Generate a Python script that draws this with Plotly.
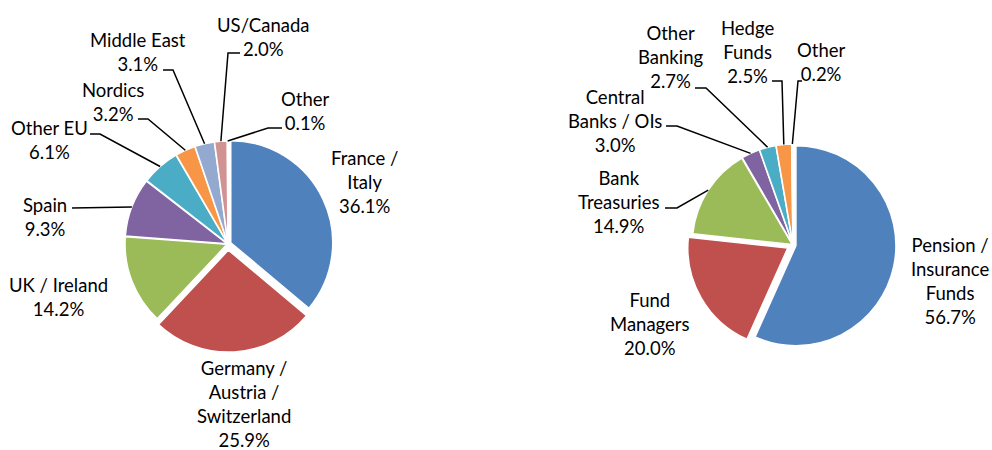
import math
import plotly.graph_objects as go

W, H = 992, 450

# ---------------- data ----------------
left_labels = ["France /<br>Italy", "Germany /<br>Austria /<br>Switzerland", "UK / Ireland",
               "Spain", "Other EU", "Nordics", "Middle East", "US/Canada", "Other"]
left_values = [36.1, 25.9, 14.2, 9.3, 6.1, 3.2, 3.1, 2.0, 0.1]

right_labels = ["Pension /<br>Insurance<br>Funds", "Fund<br>Managers", "Bank<br>Treasuries",
                "Central<br>Banks / OIs", "Other<br>Banking", "Hedge<br>Funds", "Other"]
right_values = [56.7, 20.0, 14.9, 3.0, 2.7, 2.5, 0.2]

# ---------------- style / layout ----------------
left_colors = ["#4F81BD", "#C0504D", "#9BBB59", "#8064A2", "#4BACC6", "#F79646",
               "#93A9CF", "#D19392", "#B9CD96"]
right_colors = ["#4F81BD", "#C0504D", "#9BBB59", "#8064A2", "#4BACC6", "#F79646", "#93A9CF"]
left_pull = [0.03, 0.06, 0.01, 0.01, 0.01, 0.01, 0.01, 0.01, 0.01]
right_pull = [0.03, 0.06, 0.01, 0.01, 0.01, 0.01, 0.01]

FONT = "Lato"
FS = 18.5

# pie geometry in pixels: centre x, centre y, radius
LEFT_GEOM = (228, 244, 102)
RIGHT_GEOM = (793, 245, 100)

# label layout (pixels): text centre x, text block centre y, elbow x, elbow y, stub length (signed)
left_label_pos = [
    (364, 182, None, None, 0),
    (244, 404, None, None, 0),
    (58, 297, None, None, 0),
    (45, 217, 72, 208, 0),
    (49, 140, 100, 134, -10),
    (113, 102, 148, 119, -10),
    (138, 52, 173, 70, -10),
    (263, 37, 228, 53, 12),
    (305, 111, 268, 128, 14),
]
right_label_pos = [
    (950, 281, None, None, 0),
    (650, 324, None, None, 0),
    (618, 202, 677, 208, -12),
    (615, 121, 677, 126, -11),
    (670, 57, 706, 88, -11),
    (747, 52, 782, 81, -10),
    (821, 62, 798, 81, 4),
]


def pie_trace(labels, values, colors, pulls, geom):
    cx, cy, r = geom
    maxpull = max(pulls)
    box = r * (2 + 2 * maxpull)
    return go.Pie(
        labels=[l.replace("<br>", " ") for l in labels],
        values=values,
        sort=False,
        direction="clockwise",
        rotation=0,
        pull=pulls,
        marker=dict(colors=colors, line=dict(color="white", width=1.5)),
        textinfo="none",
        hoverinfo="label+value",
        showlegend=False,
        domain=dict(x=[(cx - box / 2) / W, (cx + box / 2) / W],
                    y=[1 - (cy + box / 2) / H, 1 - (cy - box / 2) / H]),
    )


def px(x, y):
    return x / W, 1 - y / H


fig = go.Figure()
fig.add_trace(pie_trace(left_labels, left_values, left_colors, left_pull, LEFT_GEOM))
fig.add_trace(pie_trace(right_labels, right_values, right_colors, right_pull, RIGHT_GEOM))

annotations = []
shapes = []


def add_labels(labels, values, pulls, geom, positions):
    cx, cy, r = geom
    total = sum(values)
    cum = 0.0
    for lab, v, p, pos in zip(labels, values, pulls, positions):
        mid = (cum + v / 2) / total * 2 * math.pi
        cum += v
        tx, ty, ex, ey, stub = pos
        pct = f"{v / total * 100:.1f}%"
        ax, ay = px(tx, ty)
        annotations.append(dict(
            x=ax, y=ay, xref="paper", yref="paper", showarrow=False,
            text=f"{lab}<br>{pct}", align="center", xanchor="center", yanchor="middle",
            font=dict(family=FONT, size=FS, color="#000000"),
        ))
        if ex is not None:
            rr = r * (1 + p)
            sx = cx + rr * math.sin(mid)
            sy = cy - rr * math.cos(mid)
            pts = [(sx, sy), (ex, ey)]
            if stub:
                pts.append((ex + stub, ey))
            path = "M " + " L ".join(f"{px(a, b)[0]:.5f},{px(a, b)[1]:.5f}" for a, b in pts)
            shapes.append(dict(type="path", path=path, xref="paper", yref="paper",
                               line=dict(color="#000000", width=1.5)))


add_labels(left_labels, left_values, left_pull, LEFT_GEOM, left_label_pos)
add_labels(right_labels, right_values, right_pull, RIGHT_GEOM, right_label_pos)

fig.update_layout(
    width=W, height=H,
    margin=dict(l=0, r=0, t=0, b=0),
    paper_bgcolor="white", plot_bgcolor="white",
    font=dict(family=FONT, size=FS, color="#000000"),
    annotations=annotations,
    shapes=shapes,
)

fig.write_html("out.html", config={"displayModeBar": False},
               post_script="document.body.style.margin='0';")
